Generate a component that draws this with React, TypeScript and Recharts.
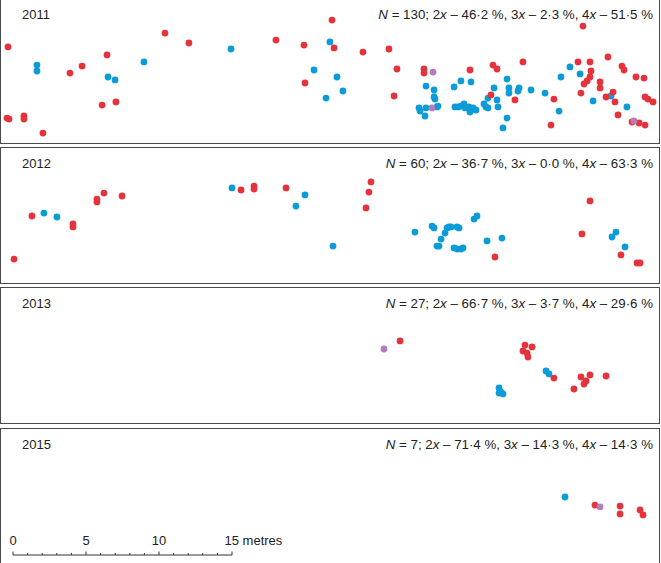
import { ScatterChart, Scatter, XAxis, YAxis } from "recharts";

type Pt = { x: number; y: number };

// positions in metres (x east from scale-bar zero, y up from panel bottom)
const red2011: Pt[] = [
  { x: -0.34, y: 6.58 }, { x: 3.9, y: 4.79 }, { x: 4.73, y: 5.27 }, { x: 6.44, y: 6.03 },
  { x: 10.41, y: 7.53 }, { x: 12.05, y: 6.85 }, { x: 6.1, y: 2.6 }, { x: 7.05, y: 2.81 },
  { x: -0.41, y: 1.71 }, { x: -0.27, y: 1.64 }, { x: 0.75, y: 1.85 }, { x: 0.75, y: 1.64 },
  { x: 2.05, y: 0.68 }, { x: 18.01, y: 7.05 }, { x: 21.85, y: 8.42 }, { x: 19.93, y: 6.71 },
  { x: 21.99, y: 6.51 }, { x: 23.97, y: 6.23 }, { x: 25.75, y: 6.44 }, { x: 26.3, y: 5.07 },
  { x: 20.0, y: 4.11 }, { x: 26.1, y: 3.22 }, { x: 28.15, y: 5.07 }, { x: 28.15, y: 4.79 },
  { x: 31.3, y: 5.0 }, { x: 32.88, y: 5.34 }, { x: 33.15, y: 5.07 }, { x: 34.93, y: 5.55 },
  { x: 32.74, y: 3.29 }, { x: 34.38, y: 2.95 }, { x: 37.05, y: 3.01 }, { x: 36.85, y: 1.23 },
  { x: 38.7, y: 5.55 }, { x: 39.52, y: 5.55 }, { x: 39.04, y: 8.01 }, { x: 39.59, y: 4.93 },
  { x: 39.52, y: 4.52 }, { x: 39.32, y: 4.25 }, { x: 39.11, y: 4.04 }, { x: 38.9, y: 3.42 },
  { x: 40.75, y: 5.89 }, { x: 40.21, y: 4.18 }, { x: 40.21, y: 3.77 }, { x: 40.62, y: 3.15 },
  { x: 41.1, y: 3.49 }, { x: 41.23, y: 2.81 }, { x: 41.71, y: 5.27 }, { x: 41.85, y: 5.0 },
  { x: 42.67, y: 4.52 }, { x: 43.22, y: 4.45 }, { x: 43.29, y: 3.15 }, { x: 43.49, y: 3.01 },
  { x: 43.84, y: 2.81 }, { x: 41.44, y: 1.92 }, { x: 42.4, y: 1.44 }, { x: 42.88, y: 1.37 },
  { x: 43.29, y: 1.23 },
];
const blue2011: Pt[] = [
  { x: 1.64, y: 5.34 }, { x: 1.64, y: 4.93 }, { x: 6.51, y: 4.52 }, { x: 6.99, y: 4.32 },
  { x: 8.97, y: 5.55 }, { x: 14.93, y: 6.44 }, { x: 21.71, y: 6.92 }, { x: 20.62, y: 5.0 },
  { x: 22.19, y: 4.52 }, { x: 22.6, y: 3.56 }, { x: 21.44, y: 3.08 }, { x: 28.29, y: 3.9 },
  { x: 28.84, y: 3.63 }, { x: 28.84, y: 3.15 }, { x: 28.9, y: 3.01 }, { x: 27.81, y: 2.4 },
  { x: 27.88, y: 2.19 }, { x: 28.29, y: 2.4 }, { x: 29.11, y: 2.53 }, { x: 29.04, y: 2.47 },
  { x: 28.22, y: 1.85 }, { x: 30.21, y: 3.84 }, { x: 30.68, y: 4.25 }, { x: 31.37, y: 4.18 },
  { x: 30.27, y: 2.47 }, { x: 30.48, y: 2.47 }, { x: 30.68, y: 2.53 }, { x: 30.89, y: 2.67 },
  { x: 30.96, y: 2.4 }, { x: 31.23, y: 2.47 }, { x: 31.37, y: 2.26 }, { x: 31.51, y: 2.4 },
  { x: 31.71, y: 2.26 }, { x: 31.3, y: 2.12 }, { x: 32.26, y: 2.67 }, { x: 32.4, y: 2.47 },
  { x: 32.53, y: 2.4 }, { x: 32.53, y: 3.08 }, { x: 32.95, y: 3.77 }, { x: 33.15, y: 2.95 },
  { x: 33.22, y: 2.47 }, { x: 33.84, y: 4.38 }, { x: 33.97, y: 3.77 }, { x: 33.97, y: 3.42 },
  { x: 34.66, y: 3.77 }, { x: 34.59, y: 3.56 }, { x: 33.84, y: 1.71 }, { x: 33.56, y: 1.03 },
  { x: 35.48, y: 3.63 }, { x: 36.44, y: 3.42 }, { x: 37.4, y: 2.19 }, { x: 37.53, y: 4.52 },
  { x: 38.15, y: 5.21 }, { x: 38.84, y: 4.73 }, { x: 39.73, y: 2.88 }, { x: 40.96, y: 3.22 },
  { x: 42.05, y: 2.47 },
];
const purple2011: Pt[] = [{ x: 28.77, y: 4.86 }, { x: 28.7, y: 2.4 }, { x: 42.53, y: 1.51 }];

const red2012: Pt[] = [
  { x: 0.07, y: 1.64 }, { x: 1.3, y: 4.59 }, { x: 4.11, y: 4.04 }, { x: 4.11, y: 3.84 },
  { x: 5.75, y: 5.75 }, { x: 5.75, y: 5.55 }, { x: 6.23, y: 6.16 }, { x: 7.47, y: 5.96 },
  { x: 15.62, y: 6.37 }, { x: 16.51, y: 6.64 }, { x: 16.51, y: 6.44 }, { x: 18.7, y: 6.51 },
  { x: 24.52, y: 6.92 }, { x: 24.38, y: 6.23 }, { x: 24.18, y: 5.14 }, { x: 33.01, y: 1.78 },
  { x: 39.52, y: 5.62 }, { x: 38.97, y: 3.36 }, { x: 41.64, y: 1.92 }, { x: 42.74, y: 1.37 },
  { x: 42.95, y: 1.37 },
];
const blue2012: Pt[] = [
  { x: 2.12, y: 4.79 }, { x: 3.01, y: 4.52 }, { x: 15.0, y: 6.51 }, { x: 20.0, y: 6.03 },
  { x: 19.38, y: 5.27 }, { x: 21.92, y: 2.53 }, { x: 27.53, y: 3.49 }, { x: 28.7, y: 3.9 },
  { x: 28.84, y: 3.77 }, { x: 29.73, y: 3.77 }, { x: 29.86, y: 3.84 }, { x: 30.0, y: 3.84 },
  { x: 30.41, y: 3.84 }, { x: 30.55, y: 3.77 }, { x: 29.59, y: 3.42 }, { x: 29.32, y: 3.01 },
  { x: 29.04, y: 2.53 }, { x: 29.18, y: 2.53 }, { x: 30.21, y: 2.4 }, { x: 30.41, y: 2.33 },
  { x: 30.68, y: 2.33 }, { x: 30.82, y: 2.4 }, { x: 31.58, y: 4.38 }, { x: 31.78, y: 4.59 },
  { x: 32.47, y: 2.88 }, { x: 33.49, y: 3.08 }, { x: 41.3, y: 3.49 }, { x: 41.03, y: 3.15 },
  { x: 41.92, y: 2.47 },
];
const purple2012: Pt[] = [];

const red2013: Pt[] = [
  { x: 26.51, y: 5.62 }, { x: 35.07, y: 5.34 }, { x: 35.55, y: 5.21 }, { x: 34.93, y: 4.93 },
  { x: 35.21, y: 4.79 }, { x: 35.27, y: 4.52 }, { x: 37.05, y: 3.08 }, { x: 38.9, y: 3.15 },
  { x: 39.52, y: 3.29 }, { x: 39.25, y: 2.88 }, { x: 39.11, y: 2.67 }, { x: 40.62, y: 3.22 },
  { x: 38.42, y: 2.33 },
];
const blue2013: Pt[] = [
  { x: 36.51, y: 3.56 }, { x: 36.71, y: 3.36 }, { x: 33.29, y: 2.4 }, { x: 33.42, y: 2.12 },
  { x: 33.29, y: 2.05 }, { x: 33.56, y: 1.99 },
];
const purple2013: Pt[] = [{ x: 25.41, y: 5.07 }];

const red2015: Pt[] = [
  { x: 39.86, y: 3.97 }, { x: 41.58, y: 3.9 }, { x: 41.58, y: 3.36 }, { x: 42.95, y: 3.63 },
  { x: 43.15, y: 3.29 },
];
const blue2015: Pt[] = [{ x: 37.81, y: 4.52 }];
const purple2015: Pt[] = [{ x: 40.21, y: 3.84 }];

const years = ["2011", "2012", "2013", "2015"];
const counts = [130, 60, 27, 7];
const pct2x = ["46·2", "36·7", "66·7", "71·4"];
const pct3x = ["2·3", "0·0", "3·7", "14·3"];
const pct4x = ["51·5", "63·3", "29·6", "14·3"];
const scaleTicks = [0, 1, 2, 3, 4, 5, 6, 7, 8, 9, 10, 11, 12, 13, 14, 15];

const RED = "#e5333b";
const BLUE = "#0b9bd7";
const PURPLE = "#b47cbd";
const FONT = "'Liberation Sans', Arial, Helvetica, sans-serif";

const PX = 14.6; // pixels per metre
const X0 = 13;
const W = 661;
const xDomain: [number, number] = [-X0 / PX, (W - X0) / PX];

const reds = [red2011, red2012, red2013, red2015];
const blues = [blue2011, blue2012, blue2013, blue2015];
const purples = [purple2011, purple2012, purple2013, purple2015];
const plotTop = [0, 148, 288, 429];
const plotH = [143, 135, 135, 134];
const frameTop = [-2, 147, 287, 428];
const frameH = [145.5, 136.5, 136.5, 140];

const dot = (color: string) => (p: any) => <circle cx={p.cx} cy={p.cy} r={3.4} fill={color} />;

function Panel({ i }: { i: number }) {
  const h = plotH[i];
  return (
    <div style={{ position: "absolute", left: 0, top: plotTop[i] }}>
      <ScatterChart width={W} height={h} margin={{ top: 0, right: 0, bottom: 0, left: 0 }}>
        <XAxis type="number" dataKey="x" domain={xDomain} allowDataOverflow hide />
        <YAxis type="number" dataKey="y" domain={[0, h / PX]} allowDataOverflow hide />
        <Scatter name="4x" data={blues[i]} fill={BLUE} shape={dot(BLUE)} isAnimationActive={false} />
        <Scatter name="2x" data={reds[i]} fill={RED} shape={dot(RED)} isAnimationActive={false} />
        <Scatter name="3x" data={purples[i]} fill={PURPLE} shape={dot(PURPLE)} isAnimationActive={false} />
      </ScatterChart>
    </div>
  );
}

const ScaleTick = (p: any) => {
  const v = p.payload.value;
  const major = v % 5 === 0;
  return (
    <g>
      <line x1={p.x} x2={p.x} y1={30} y2={major ? 26.5 : 28} stroke="#333" strokeWidth={1} />
      {major && (
        <text x={v === 15 ? p.x - 7.5 : p.x} y={20} textAnchor={v === 15 ? "start" : "middle"} fontSize={13} fontFamily={FONT} fill="#222">
          {v === 15 ? "15 metres" : String(v)}
        </text>
      )}
    </g>
  );
};

export default function App() {
  return (
    <div style={{ position: "absolute", left: 0, top: 0, width: W, height: 563, overflow: "hidden", background: "#fff" }}>
      {frameTop.map((t, i) => (
        <div
          key={i}
          style={{ position: "absolute", left: 0, top: t, width: 660, height: frameH[i], border: "1.5px solid #4a4a4a", boxSizing: "border-box" }}
        />
      ))}
      {years.map((_, i) => (
        <Panel key={i} i={i} />
      ))}
      <div style={{ position: "absolute", left: 3, top: 525 }}>
        <ScatterChart width={289} height={34} margin={{ top: 0, right: 60, bottom: 0, left: 10 }}>
          <XAxis
            type="number"
            dataKey="x"
            orientation="top"
            height={30}
            domain={[0, 15]}
            ticks={scaleTicks}
            interval={0}
            allowDataOverflow
            axisLine={{ stroke: "#333", strokeWidth: 1 }}
            tickLine={false}
            tick={<ScaleTick />}
          />
          <YAxis type="number" dataKey="y" hide domain={[0, 1]} />
        </ScatterChart>
      </div>
      <svg width={W} height={563} style={{ position: "absolute", left: 0, top: 0, pointerEvents: "none" }}>
        {years.map((yr, i) => {
          const base = frameTop[i] + 20.5;
          return (
            <g key={yr} fontFamily={FONT} fill="#222">
              <text x={22} y={base} fontSize={13}>{yr}</text>
              <text x={653} y={base} textAnchor="end" fontSize={13.3}>
                <tspan fontStyle="italic">N</tspan>
                {` = ${counts[i]}; 2`}
                <tspan fontStyle="italic">x</tspan>
                {` – ${pct2x[i]} %, 3`}
                <tspan fontStyle="italic">x</tspan>
                {` – ${pct3x[i]} %, 4`}
                <tspan fontStyle="italic">x</tspan>
                {` – ${pct4x[i]} %`}
              </text>
            </g>
          );
        })}
      </svg>
    </div>
  );
}
